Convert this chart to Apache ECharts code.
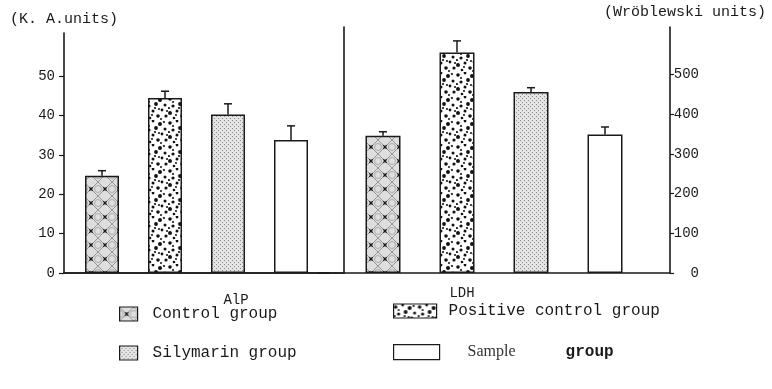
<!DOCTYPE html>
<html>
<head>
<meta charset="utf-8">
<script src="https://cdn.jsdelivr.net/npm/echarts@6/dist/echarts.min.js"></script>
<style>
html,body{margin:0;padding:0;background:#fff;}
#chart{width:772px;height:389px;}
</style>
</head>
<body>
<div id="chart"></div>
<script>
// ---- data ----
const alpCategories = ['AlP'];
const ldhCategories = ['LDH'];
const groups = ['Control group', 'Positive control group', 'Silymarin group', 'Sample group'];
const alpValues = [24.7, 44.5, 40.3, 33.8];
const alpErrors = [1.3, 1.7, 2.7, 3.6];
const ldhValues = [346, 556, 456, 349];
const ldhErrors = [10, 29, 11, 19];
const leftTicks = [0, 10, 20, 30, 40, 50];
const rightTicks = [0, 100, 200, 300, 400, 500];
const leftAxisName = '(K. A.units)';
const rightAxisName = '(Wröblewski units)';

// ---- patterns ----
function tile(w, h, draw) {
  const c = document.createElement('canvas');
  c.width = w; c.height = h;
  draw(c.getContext('2d'), w, h);
  return c;
}
const controlTile = tile(14, 14, (g, w, h) => {
  g.fillStyle = '#dedede'; g.fillRect(0, 0, w, h);
  g.strokeStyle = '#858585'; g.lineWidth = 0.8;
  g.beginPath(); g.moveTo(0, 0); g.lineTo(w, h); g.moveTo(w, 0); g.lineTo(0, h); g.stroke();
  g.strokeStyle = '#9a9a9a';
  g.beginPath(); g.arc(0, 7, 3.5, 0, Math.PI * 2); g.stroke();
  g.beginPath(); g.arc(14, 7, 3.5, 0, Math.PI * 2); g.stroke();
  g.strokeStyle = '#1a1a1a'; g.lineWidth = 1.3;
  g.beginPath(); g.moveTo(5.3, 5.3); g.lineTo(8.7, 8.7); g.moveTo(8.7, 5.3); g.lineTo(5.3, 8.7); g.stroke();
});
const positiveTile = tile(24, 24, (g, w, h) => {
  g.fillStyle = '#fff'; g.fillRect(0, 0, w, h);
  g.fillStyle = '#111';
  const dots = [[2,3,1.8],[9,1,1.4],[16,4,2.0],[21,9,1.5],[5,10,1.6],[12,8,1.9],[18,14,1.4],[2,17,2.0],[9,15,1.5],[14,20,1.8],[22,20,1.6],[6,22,1.3],[11,12,1.1],[20,2,1.1],[1,12,1.1],[15,13,1.0],[8,19,1.0],[23,15,1.0],[17,23,1.0],[5,6,1.0]];
  dots.forEach(d => { g.beginPath(); g.arc(d[0], d[1], d[2], 0, Math.PI * 2); g.fill(); });
});
const silymarinTile = tile(4, 4, (g, w, h) => {
  g.fillStyle = '#e4e4e4'; g.fillRect(0, 0, w, h);
  g.fillStyle = '#8a8a8a';
  g.fillRect(0, 0, 1, 1); g.fillRect(2, 2, 1, 1);
});
const fills = [
  { image: controlTile, repeat: 'repeat' },
  { image: positiveTile, repeat: 'repeat' },
  { image: silymarinTile, repeat: 'repeat' },
  '#ffffff'
];

const FONT = 'Liberation Mono';
const INK = '#1a1a1a';
const BW1 = 34, GAP1 = 29, BW2 = 35, GAP2 = 39;

function errorSeries(values, errors, xi, yi, bw, gap) {
  return {
    type: 'custom',
    xAxisIndex: xi, yAxisIndex: yi,
    silent: true,
    encode: { x: 0, y: [1, 2] },
    data: values.map((v, i) => [0, v, v + errors[i], i]),
    renderItem: (params, api) => {
      const i = api.value(3);
      const base = api.coord([api.value(0), api.value(1)]);
      const top = api.coord([api.value(0), api.value(2)]);
      const total = 4 * bw + 3 * gap;
      const cx = base[0] - total / 2 + i * (bw + gap) + bw / 2;
      return {
        type: 'group',
        children: [
          { type: 'line', shape: { x1: cx, y1: base[1], x2: cx, y2: top[1] }, style: { stroke: INK, lineWidth: 1.5 } },
          { type: 'line', shape: { x1: cx - 4, y1: top[1], x2: cx + 4, y2: top[1] }, style: { stroke: INK, lineWidth: 1.5 } }
        ]
      };
    }
  };
}

const series = [];
groups.forEach((name, i) => {
  series.push({
    name: name, type: 'bar', xAxisIndex: 0, yAxisIndex: 0,
    barWidth: BW1, barGap: (GAP1 / BW1 * 100) + '%',
    itemStyle: { color: fills[i], borderColor: INK, borderWidth: 1.5 },
    data: [alpValues[i]]
  });
});
groups.forEach((name, i) => {
  series.push({
    name: name, type: 'bar', xAxisIndex: 1, yAxisIndex: 1,
    barWidth: BW2, barGap: (GAP2 / BW2 * 100) + '%',
    itemStyle: { color: fills[i], borderColor: INK, borderWidth: 1.5 },
    data: [ldhValues[i]]
  });
});
series.push(errorSeries(alpValues, alpErrors, 0, 0, BW1, GAP1));
series.push(errorSeries(ldhValues, ldhErrors, 1, 1, BW2, GAP2));

const axisLine = { show: true, lineStyle: { color: INK, width: 1.6 } };
const legendBase = {
  selectedMode: false, icon: 'rect', orient: 'vertical', padding: 0,
  itemStyle: { borderColor: INK, borderWidth: 1.2 },
  textStyle: { fontFamily: FONT, fontSize: 16, color: INK }
};

const option = {
  animation: false,
  backgroundColor: '#fff',
  grid: [
    { left: 64, right: 443, top: 33, bottom: 116 },
    { left: 318, right: 102, top: 27, bottom: 116 },
    { left: 64, right: 428, top: 27, bottom: 116 }
  ],
  xAxis: [
    { type: 'category', gridIndex: 0, data: alpCategories, axisLine: axisLine, axisTick: { show: false },
      axisLabel: { fontFamily: FONT, fontSize: 14, color: INK, margin: 20, padding: [0, 0, 0, 79] } },
    { type: 'category', gridIndex: 1, data: ldhCategories, axisLine: axisLine, axisTick: { show: false },
      axisLabel: { fontFamily: FONT, fontSize: 14, color: INK, margin: 13, padding: [0, 64, 0, 0] } },
    { type: 'category', gridIndex: 2, data: alpCategories, axisLine: axisLine, axisTick: { show: false },
      axisLabel: { show: false } }
  ],
  yAxis: [
    { type: 'value', gridIndex: 0, position: 'left', min: 0, max: 61, interval: 10,
      name: leftAxisName, nameLocation: 'end', nameGap: 6,
      nameTextStyle: { fontFamily: FONT, fontSize: 15, color: INK },
      axisLine: axisLine, splitLine: { show: false },
      axisTick: { show: true, length: 5, lineStyle: { color: INK, width: 1.2 }, customValues: leftTicks },
      axisLabel: { fontFamily: FONT, fontSize: 14, color: INK, margin: 9, customValues: leftTicks } },
    { type: 'value', gridIndex: 1, position: 'right', min: 0, max: 620, interval: 100,
      name: rightAxisName, nameLocation: 'end', nameGap: 7,
      nameTextStyle: { fontFamily: FONT, fontSize: 15, color: INK, align: 'center', padding: [0, 0, 0, 30] },
      axisLine: axisLine, splitLine: { show: false },
      axisTick: { show: true, length: 4, lineStyle: { color: INK, width: 1.2 }, customValues: rightTicks },
      axisLabel: { fontFamily: FONT, fontSize: 14, color: INK, margin: 29, align: 'right', customValues: rightTicks } },
    { type: 'value', gridIndex: 2, position: 'right', min: 0, max: 620,
      axisLine: axisLine, axisTick: { show: false }, axisLabel: { show: false }, splitLine: { show: false } }
  ],
  legend: [
    Object.assign({}, legendBase, { data: ['Control group'], left: 119, top: 306, itemWidth: 18, itemHeight: 14,
      textStyle: { fontFamily: FONT, fontSize: 16, color: INK, padding: [0, 0, 0, 10] } }),
    Object.assign({}, legendBase, { data: ['Silymarin group'], left: 119, top: 345, itemWidth: 18, itemHeight: 14,
      textStyle: { fontFamily: FONT, fontSize: 16, color: INK, padding: [0, 0, 0, 10] } }),
    Object.assign({}, legendBase, { data: ['Positive control group'], left: 393, top: 303, itemWidth: 43, itemHeight: 14,
      textStyle: { fontFamily: FONT, fontSize: 16, color: INK, padding: [0, 0, 0, 7] } }),
    Object.assign({}, legendBase, { data: ['Sample group'], left: 393, top: 344, itemWidth: 46, itemHeight: 15,
      formatter: () => '{p| }{a|Sample}{b|group}',
      textStyle: { fontFamily: FONT, fontSize: 16, color: INK,
        rich: { p: { width: 23, fontSize: 16 },
                a: { fontFamily: 'Liberation Serif', fontSize: 16, color: '#333', width: 98 },
                b: { fontFamily: FONT, fontSize: 16, color: INK, fontWeight: 'bold' } } } })
  ],
  series: series
};

const chart = echarts.init(document.getElementById('chart'), null, { renderer: 'canvas' });
chart.setOption(option);
</script>
</body>
</html>
